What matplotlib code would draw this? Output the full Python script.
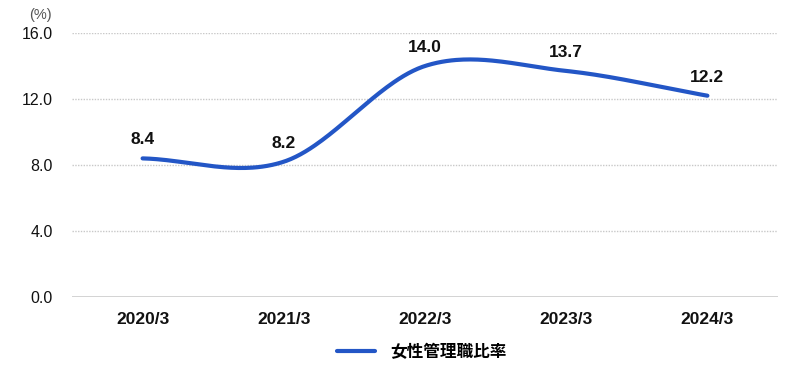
import numpy as np
import matplotlib.pyplot as plt

plt.rcParams['font.family'] = ['Liberation Sans', 'Noto Sans CJK JP', 'DejaVu Sans']

# data
categories = ['2020/3', '2021/3', '2022/3', '2023/3', '2024/3']
values = [8.4, 8.2, 14.0, 13.7, 12.2]
series_name = '女性管理職比率'
y_ticks = [0.0, 4.0, 8.0, 12.0, 16.0]

line_color = '#2356c6'


def catmull_rom(y, n=60):
    # smooth curve through the points (cardinal spline, like the web chart)
    y = np.asarray(y, dtype=float)
    m = np.zeros_like(y)
    m[1:-1] = (y[2:] - y[:-2]) / 2
    m[0] = y[1] - y[0]
    m[-1] = y[-1] - y[-2]
    xs, ys = [], []
    for i in range(len(y) - 1):
        t = np.linspace(0, 1, n)
        h00 = 2 * t**3 - 3 * t**2 + 1
        h10 = t**3 - 2 * t**2 + t
        h01 = -2 * t**3 + 3 * t**2
        h11 = t**3 - t**2
        xs.append(i + t)
        ys.append(h00 * y[i] + h10 * m[i] + h01 * y[i + 1] + h11 * m[i + 1])
    return np.concatenate(xs), np.concatenate(ys)


fig = plt.figure(figsize=(8, 3.65), dpi=100)
ax = fig.add_axes([0.09, 0.1863, 0.8825, 0.7233])

x = np.arange(len(categories))
cx, cy = catmull_rom(values)
ax.plot(cx, cy, color=line_color, linewidth=3, solid_capstyle='round',
        label=series_name, zorder=3)

for xi, v in zip(x, values):
    ax.annotate(f'{v:.1f}', (xi, v), xytext=(0, 8), textcoords='offset points',
                ha='center', va='bottom', fontsize=12.5, fontweight='bold',
                color='#111111')

ax.set_xlim(-0.5, len(categories) - 0.5)
ax.set_ylim(0, 16)
ax.set_yticks(y_ticks)
ax.set_yticklabels([f'{t:.1f}' for t in y_ticks])
ax.set_xticks(x)
ax.set_xticklabels(categories, fontweight='bold')

for t in y_ticks[1:]:
    ax.axhline(t, color='#c8c8c8', linewidth=1, linestyle=(0, (1, 1)), zorder=1)
ax.axhline(0, color='#cccccc', linewidth=1.2, zorder=1)

for s in ax.spines.values():
    s.set_visible(False)
ax.tick_params(axis='y', length=0, pad=14, labelsize=11.5, labelcolor='#111111')
ax.tick_params(axis='x', length=0, pad=11, labelsize=12.5, labelcolor='#111111')

fig.text(0.05, 0.958, '(%)', ha='center', va='center', fontsize=10.5, color='#555555')

fig.legend(loc='center', bbox_to_anchor=(0.527, 0.036), frameon=False,
           prop={'weight': 'bold', 'size': 12}, handlelength=2.3,
           handletextpad=0.9)

fig.savefig('out.png', dpi=100)
